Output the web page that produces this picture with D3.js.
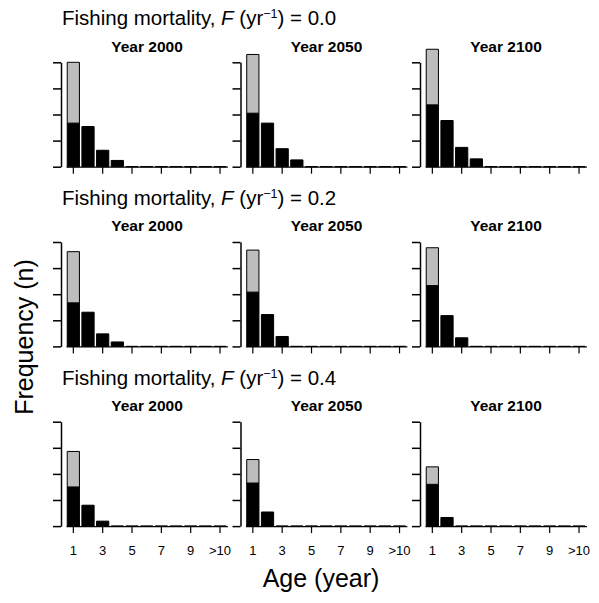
<!DOCTYPE html>
<html lang="en">
  <head>
    <meta charset="utf-8">
    <title>age_frequency_panels</title>
    <script src="https://d3js.org/d3.v7.min.js"></script>
    <style>
      body { margin: 0; background: white; }
      text { font-family: "Liberation Sans", Arial, sans-serif; fill: black; }
    </style>
  </head>

  <body>

  <script>

// values, in y-tick units (ticks at 0..4)
  var ages = [1, 2, 3, 4, 5, 6, 7, 8, 9, 10, 11];
  var tickAges = [1, 3, 5, 7, 9, 11];
  var tickLabels = ["1", "3", "5", "7", "9", ">10"];
  var years = ["2000", "2050", "2100"];
  var fRates = ["0.0", "0.2", "0.4"];

  // black part of each bar (ages 1..>10), one list per year
  var black_F00 = [
    [1.67, 1.54, 0.63, 0.24, 0, 0, 0, 0, 0, 0, 0],
    [2.05, 1.67, 0.69, 0.26, 0, 0, 0, 0, 0, 0, 0],
    [2.37, 1.77, 0.74, 0.30, 0, 0, 0, 0, 0, 0, 0]
  ];
  var black_F02 = [
    [1.67, 1.31, 0.48, 0.17, 0, 0, 0, 0, 0, 0, 0],
    [2.08, 1.22, 0.38, 0, 0, 0, 0, 0, 0, 0, 0],
    [2.33, 1.18, 0.33, 0, 0, 0, 0, 0, 0, 0, 0]
  ];
  var black_F04 = [
    [1.50, 0.80, 0.19, 0, 0, 0, 0, 0, 0, 0, 0],
    [1.65, 0.54, 0, 0, 0, 0, 0, 0, 0, 0, 0],
    [1.60, 0.33, 0, 0, 0, 0, 0, 0, 0, 0, 0]
  ];
  // grey part stacked on the age-1 bar, one value per year
  var grey_F00 = [2.33, 2.25, 2.13];
  var grey_F02 = [1.96, 1.61, 1.45];
  var grey_F04 = [1.36, 0.90, 0.67];

  var blackRows = [black_F00, black_F02, black_F04];
  var greyRows = [grey_F00, grey_F02, grey_F04];

  var w = 599;
  var h = 603;
  var colStep = 179.5, rowStep = 179.7;
  var left0 = 61, top0 = 62.3;
  var innerH = 104.4;

  var svg = d3.select("body")
    .append("svg")
      .attr("width", w)
      .attr("height", h);

  var x = d3.scaleBand()
      .domain(ages)
      .range([5, 5 + 11 * 14.67])
      .paddingInner(0.2 / 1.2)
      .paddingOuter(0.1 / 1.2);

  var y = d3.scaleLinear()
      .domain([0, 4])
      .range([innerH, 0]);

  function barPath(x0, wd, y0, y1) {
    return "M" + x0 + "," + y0 + "H" + (x0 + wd) + "V" + y1 + "H" + x0 + "Z";
  }

  fRates.forEach(function(f, r) {
    var head = svg.append("text")
        .attr("x", 62)
        .attr("y", top0 + r * rowStep - 37)
        .style("font-size", "20.5px");
    head.append("tspan").text("Fishing mortality, ");
    head.append("tspan").style("font-style", "italic").text("F");
    head.append("tspan").text(" (yr");
    head.append("tspan").attr("dy", -7).style("font-size", "12.5px").text("\u22121");
    head.append("tspan").attr("dy", 7).text(") = " + f);

    years.forEach(function(yr, c) {
      var g = svg.append("g")
          .attr("transform", `translate(${left0 + c * colStep}, ${top0 + r * rowStep})`);

      g.append("text")
          .attr("x", 86)
          .attr("y", -10.6)
          .attr("text-anchor", "middle")
          .style("font-size", "15.5px")
          .style("font-weight", "bold")
          .text("Year " + yr);

      var blk = blackRows[r][c];
      var gry = greyRows[r][c];

      // x axis: continuous baseline under the bars, ticks pointing down
      var xAxis = d3.axisBottom(x)
          .tickValues(tickAges)
          .tickSize(7)
          .tickSizeOuter(0)
          .tickPadding(13)
          .tickFormat((d, i) => r === 2 ? tickLabels[i] : "");
      g.append("g")
          .attr("class", "xAxis")
          .attr("transform", `translate(0, ${innerH})`)
          .call(xAxis)
          .call(s => s.select(".domain").attr("stroke-width", 1.3))
          .call(s => s.selectAll("line").attr("stroke-width", 1.2))
          .call(s => s.selectAll("text")
              .style("font-size", "13px")
              .style("font-family", "'Liberation Sans', Arial, sans-serif"));

      g.selectAll("path.blk")
        .data(ages)
        .enter().append("path")
          .attr("class", "blk")
          .attr("d", (a, i) => barPath(x(a), x.bandwidth(), y(0), y(blk[i])))
          .attr("fill", "black")
          .attr("stroke", "black")
          .attr("stroke-width", 1);

      g.append("path")
          .attr("d", barPath(x(1), x.bandwidth(), y(blk[0]), y(blk[0] + gry)))
          .attr("fill", "#bdbdbd")
          .attr("stroke", "black")
          .attr("stroke-width", 1);

      var yAxis = d3.axisLeft(y)
          .tickValues([0, 1, 2, 3, 4])
          .tickFormat("")
          .tickSize(8)
          .tickSizeOuter(0);
      g.append("g")
          .attr("class", "yAxis")
          .call(yAxis)
          .call(s => s.selectAll("path, line").attr("stroke-width", 1.5));
    });
  });

  svg.append("text")
      .attr("transform", "translate(33, 337) rotate(-90)")
      .attr("text-anchor", "middle")
      .style("font-size", "25px")
      .text("Frequency (n)");

  svg.append("text")
      .attr("x", 321)
      .attr("y", 587)
      .attr("text-anchor", "middle")
      .style("font-size", "25px")
      .text("Age (year)");

    </script>

  </body>

</html>
